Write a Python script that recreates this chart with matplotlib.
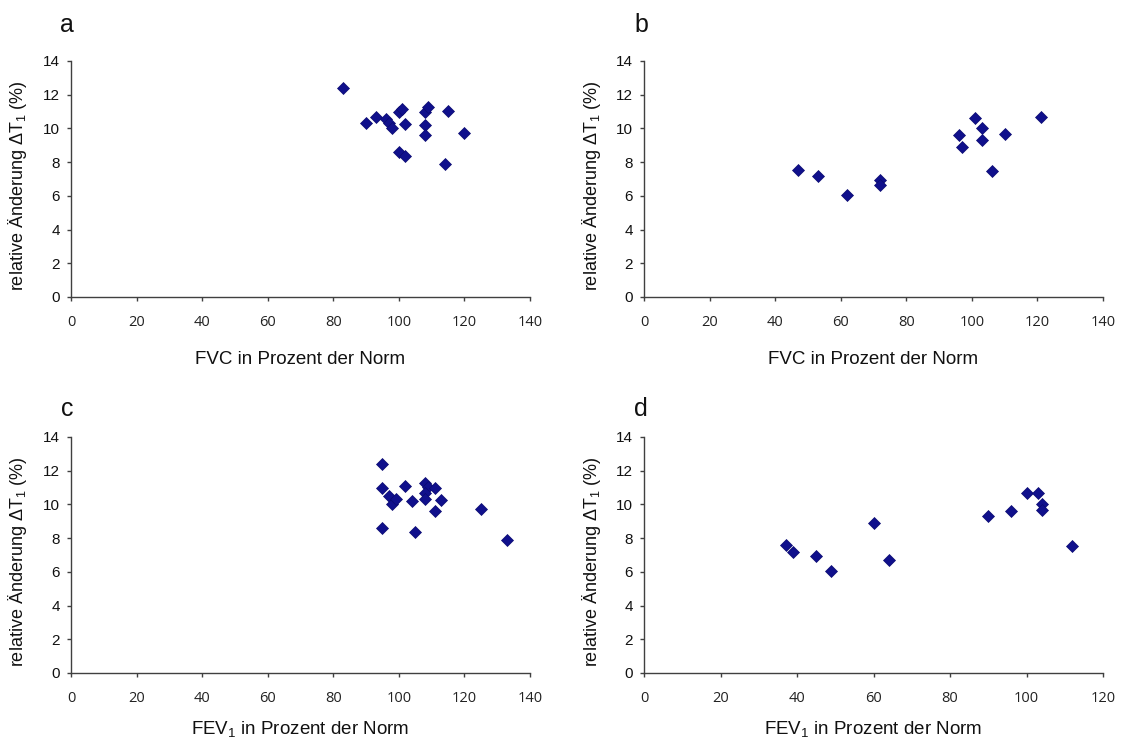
import matplotlib
matplotlib.use("Agg")
import matplotlib.pyplot as plt

plt.rcParams['font.family'] = ['Liberation Sans', 'DejaVu Sans']
plt.rcParams['mathtext.fontset'] = 'custom'
plt.rcParams['mathtext.rm'] = 'Liberation Sans'

# Panel a: FVC (% of norm) vs relative change dT1 (%)
fvc_a = [83, 90, 93, 96, 97, 98, 100, 101, 102, 100, 102, 108, 109, 108, 108, 115, 120, 114]
dt_a = [12.4, 10.3, 10.65, 10.55, 10.3, 10.0, 11.0, 11.15, 10.25, 8.6, 8.35, 11.0, 11.25, 10.2, 9.6, 11.05, 9.75, 7.9]

# Panel b
fvc_b = [47, 53, 62, 72, 72, 96, 97, 101, 103, 103, 106, 110, 121]
dt_b = [7.55, 7.15, 6.05, 6.95, 6.65, 9.6, 8.9, 10.6, 10.05, 9.3, 7.5, 9.65, 10.7]

# Panel c: FEV1 (% of norm)
fev_c = [95, 95, 95, 97, 98, 99, 102, 104, 105, 108, 109, 108, 108, 111, 111, 113, 125, 133]
dt_c = [12.4, 11.0, 8.6, 10.5, 10.05, 10.35, 11.1, 10.2, 8.35, 11.25, 11.05, 10.7, 10.35, 11.0, 9.6, 10.25, 9.75, 7.9]

# Panel d
fev_d = [37, 39, 45, 49, 60, 64, 90, 96, 100, 103, 104, 104, 112]
dt_d = [7.6, 7.15, 6.95, 6.05, 8.9, 6.7, 9.3, 9.6, 10.7, 10.65, 10.05, 9.65, 7.55]

panel_letters = ['a', 'b', 'c', 'd']
xlabels = ['FVC in Prozent der Norm', 'FVC in Prozent der Norm',
           r'FEV$\mathregular{_1}$ in Prozent der Norm', r'FEV$\mathregular{_1}$ in Prozent der Norm']
ylabel = r'relative Änderung ΔT$\mathregular{_1}$ (%)'
xmax = [140, 140, 140, 120]
yticks = list(range(0, 15, 2))

W, H = 1121, 740
fig = plt.figure(figsize=(W / 100, H / 100), dpi=100)

# axes pixel boxes: (left, right, top, bottom)
boxes = [(71, 530, 61, 297), (644, 1103, 61, 297),
         (71, 530, 437, 673), (644, 1103, 437, 673)]
letter_pos = [(67, 25), (641, 25), (67, 409), (641, 409)]
xlabel_offset = [63, 63, 56, 56]   # px below axis bottom (label centre)
ylabel_offset = 53                 # px left of axis (label centre)
data = [(fvc_a, dt_a), (fvc_b, dt_b), (fev_c, dt_c), (fev_d, dt_d)]

marker_color = '#10108c'
axis_color = '#404040'

for i, ((l, r, t, b), (xs, ys)) in enumerate(zip(boxes, data)):
    ax = fig.add_axes([l / W, 1 - b / H, (r - l) / W, (b - t) / H])
    ax.plot(xs, ys, linestyle='none', marker='D', ms=6.3,
            color=marker_color, mec='#0a0a70', mew=0.5, clip_on=False)
    ax.set_xlim(0, xmax[i])
    ax.set_ylim(0, 14)
    ax.set_xticks(list(range(0, xmax[i] + 1, 20)))
    ax.set_yticks(yticks)
    for s in ['top', 'right']:
        ax.spines[s].set_visible(False)
    for s in ['left', 'bottom']:
        ax.spines[s].set_color(axis_color)
        ax.spines[s].set_linewidth(1.0)
    ax.tick_params(axis='both', direction='out', length=3, width=1.0, color=axis_color)
    ax.tick_params(axis='y', labelsize=11, pad=5, labelcolor='#111111')
    ax.tick_params(axis='x', labelsize=10.5, pad=10, labelcolor='#222222')
    for lab in ax.get_xticklabels():
        lab.set_family(['Open Sans', 'DejaVu Sans'])
    aw, ah = (r - l), (b - t)
    ax.set_xlabel(xlabels[i], fontsize=13.5, color='#111111')
    ax.xaxis.set_label_coords(0.5, -xlabel_offset[i] / ah)
    ax.xaxis.label.set_va('center')
    ax.set_ylabel(ylabel, fontsize=13, color='#111111')
    ax.yaxis.set_label_coords(-ylabel_offset / aw, 0.47)
    ax.yaxis.label.set_va('center')
    lx, ly = letter_pos[i]
    fig.text(lx / W, 1 - ly / H, panel_letters[i], fontsize=18,
             ha='center', va='center', color='#111111')

fig.savefig('out.png', dpi=100)
